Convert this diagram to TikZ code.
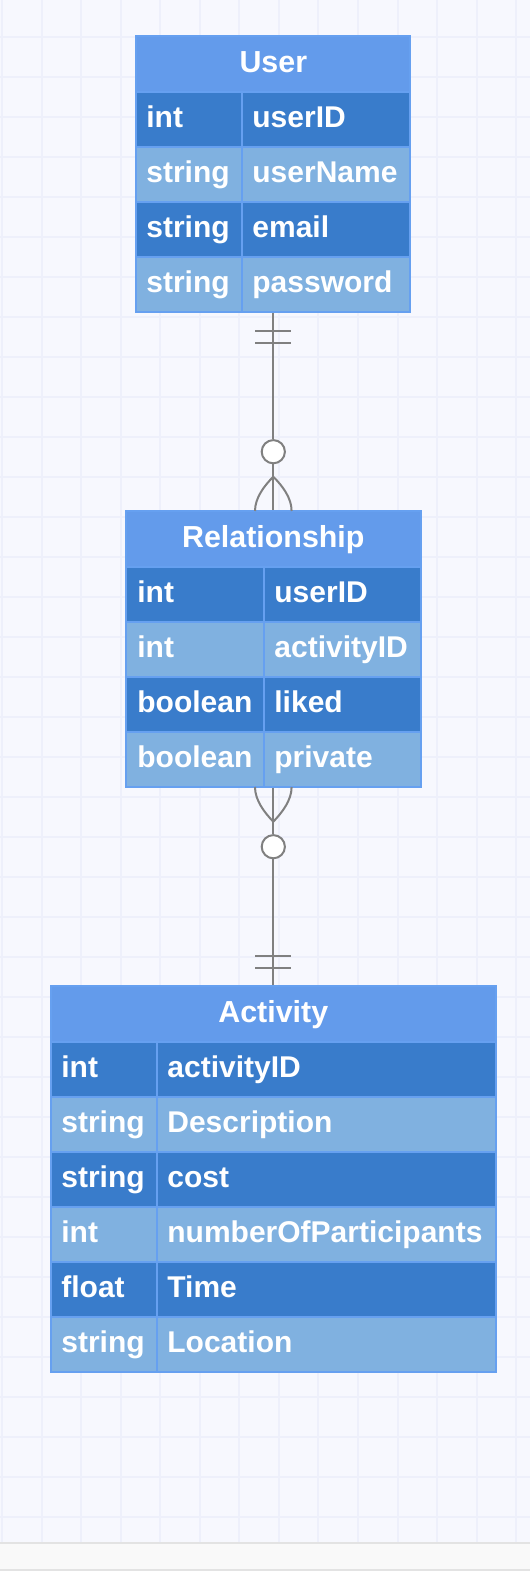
\documentclass[tikz,border=0pt]{standalone}
\usepackage{fontspec}
\setmainfont{Liberation Sans}
\usetikzlibrary{calc}
\definecolor{bgcol}{HTML}{F7F8FE}
\definecolor{gridcol}{HTML}{EEF0FB}
\definecolor{hdrcol}{HTML}{639BEB}
\definecolor{rowdark}{HTML}{397CCB}
\definecolor{rowlight}{HTML}{80B1E0}
\definecolor{edgecol}{HTML}{66A0F0}
\definecolor{linkcol}{HTML}{808080}
\definecolor{barcol}{HTML}{F9F9F9}
\definecolor{barline}{HTML}{E3E3E3}
\tikzset{
  tbl/.style={draw=edgecol, line width=1pt, fill=hdrcol, inner sep=0pt},
  cell/.style={draw=edgecol, line width=1pt},
  title/.style={text=white, anchor=base, inner sep=0pt, font=\bfseries\fontsize{15.2}{18}\selectfont},
  field/.style={text=white, anchor=base west, inner sep=0pt, font=\bfseries\fontsize{15}{18}\selectfont},
  link/.style={draw=linkcol, line width=1pt},
  opt/.style={circle, draw=linkcol, fill=white, line width=1pt, inner sep=0pt, minimum size=11.6pt},
}
\begin{document}
\begin{tikzpicture}[x=0.5pt, y=-0.5pt]
  \useasboundingbox (0,0) rectangle (530,1571);
  \fill[bgcol] (0,0) rectangle (530,1542);
  \foreach \gx in {0,...,13} \draw[gridcol, line width=1pt] ({2+39.55*\gx},0) -- ({2+39.55*\gx},1542);
  \foreach \gy in {0,...,37} \draw[gridcol, line width=1pt] (0,{37.3+40*\gy}) -- (530,{37.3+40*\gy});
  \fill[barcol] (0,1542) rectangle (530,1571);
  \draw[barline, line width=1pt] (0,1542.5) -- (530,1542.5);
  \draw[barline, line width=1pt] (0,1570) -- (530,1570);

  % User
  \node[tbl, minimum width=137pt, minimum height=137.85pt] (user) at (273.3,173.85) {};
  \node[title] (user-title) at (273.3,72.5) {User};
  \foreach \c/\ty/\nm [count=\i from 0] in {rowdark/int/userID, rowlight/string/userName, rowdark/string/email, rowlight/string/password} {
    \draw[cell, fill=\c] (136.3,{91.7+55*\i}) rectangle (242,{146.7+55*\i});
    \draw[cell, fill=\c] (242,{91.7+55*\i}) rectangle (410.3,{146.7+55*\i});
    \node[field] (user-t\i) at (146,{127.3+55*\i}) {\ty};
    \node[field] (user-n\i) at (252,{127.3+55*\i}) {\nm};
  }

  % Relationship
  \node[tbl, minimum width=147.35pt, minimum height=137.85pt] (rel) at (273.3,648.85) {};
  \node[title] (rel-title) at (273.3,547) {Relationship};
  \foreach \c/\ty/\nm [count=\i from 0] in {rowdark/int/userID, rowlight/int/activityID, rowdark/boolean/liked, rowlight/boolean/private} {
    \draw[cell, fill=\c] (126,{566.7+55*\i}) rectangle (264,{621.7+55*\i});
    \draw[cell, fill=\c] (264,{566.7+55*\i}) rectangle (420.6,{621.7+55*\i});
    \node[field] (rel-t\i) at (137,{602.3+55*\i}) {\ty};
    \node[field] (rel-n\i) at (274,{602.3+55*\i}) {\nm};
  }

  % Activity
  \node[tbl, minimum width=222.35pt, minimum height=192.85pt] (act) at (273.3,1178.85) {};
  \node[title] (act-title) at (273.3,1022) {Activity};
  \foreach \c/\ty/\nm [count=\i from 0] in {rowdark/int/activityID, rowlight/string/Description, rowdark/string/cost, rowlight/int/numberOfParticipants, rowdark/float/Time, rowlight/string/Location} {
    \draw[cell, fill=\c] (51,{1041.7+55*\i}) rectangle (157.3,{1096.7+55*\i});
    \draw[cell, fill=\c] (157.3,{1041.7+55*\i}) rectangle (495.6,{1096.7+55*\i});
    \node[field] (act-t\i) at (61,{1077.3+55*\i}) {\ty};
    \node[field] (act-n\i) at (167,{1077.3+55*\i}) {\nm};
  }

  % User -- Relationship
  \node[opt] (opt1) at (273.3,451.7) {};
  \coordinate (foot1) at (273.3,476.7);
  \draw[link] (user.south) -- (opt1.north);
  \draw[link] (opt1.south) -- (rel.north);
  \draw[link] ($(user.south)+(-18,18.3)$) -- ++(36,0);
  \draw[link] ($(user.south)+(-18,30)$) -- ++(36,0);
  \draw[link] (foot1) .. controls (264,486) and (255,498) .. (255,511);
  \draw[link] (foot1) .. controls (282.6,486) and (291.6,498) .. (291.6,511);

  % Relationship -- Activity
  \node[opt] (opt2) at (273.3,846.7) {};
  \coordinate (foot2) at (273.3,821.7);
  \draw[link] (rel.south) -- (opt2.north);
  \draw[link] (opt2.south) -- (act.north);
  \draw[link] ($(act.north)+(-18,-29.3)$) -- ++(36,0);
  \draw[link] ($(act.north)+(-18,-17)$) -- ++(36,0);
  \draw[link] (foot2) .. controls (264,812) and (255,800) .. (255,787);
  \draw[link] (foot2) .. controls (282.6,812) and (291.6,800) .. (291.6,787);
\end{tikzpicture}
\end{document}
